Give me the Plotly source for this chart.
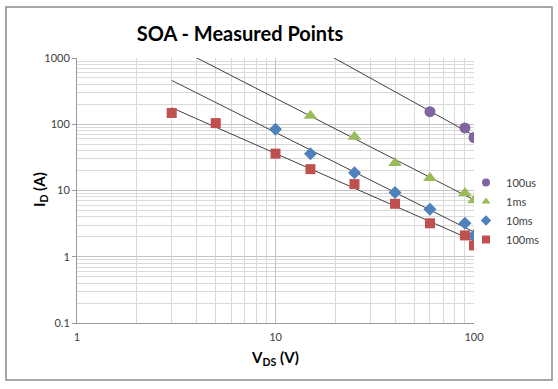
import numpy as np
import plotly.graph_objects as go

# Data
vds_100us = [60, 90, 100]
id_100us = [155, 88, 63]
vds_1ms = [15, 25, 40, 60, 90, 100]
id_1ms = [134, 65, 26, 15.5, 9.2, 7.1]
vds_10ms = [10, 15, 25, 40, 60, 90, 100]
id_10ms = [84, 36, 18.5, 9.3, 5.2, 3.2, 2.1]
vds_100ms = [3, 5, 10, 15, 25, 40, 60, 90, 100]
id_100ms = [148, 104, 36, 21, 12.5, 6.3, 3.2, 2.1, 1.48]

series = [
    ("100us", vds_100us, id_100us, "circle", "#8064A2", 11),
    ("1ms", vds_1ms, id_1ms, "triangle-up", "#9BBB59", 12),
    ("10ms", vds_10ms, id_10ms, "diamond", "#4F81BD", 10),
    ("100ms", vds_100ms, id_100ms, "square", "#C0504D", 10),
]

trend_x_range = [3, 100]

fig = go.Figure()

# power-law trendlines (Excel style), fit in log-log space
for name, xs, ys, sym, col, sz in series:
    b, a = np.polyfit(np.log10(xs), np.log10(ys), 1)
    tx = np.logspace(np.log10(trend_x_range[0]), np.log10(trend_x_range[1]), 60)
    ty = 10 ** (a + b * np.log10(tx))
    fig.add_trace(go.Scatter(x=tx, y=ty, mode="lines", line=dict(color="#404040", width=1),
                             showlegend=False, hoverinfo="skip"))

for name, xs, ys, sym, col, sz in series:
    fig.add_trace(go.Scatter(x=xs, y=ys, mode="markers", name=name, showlegend=False,
                             marker=dict(symbol=sym, color=col, size=sz, line=dict(width=0))))

# legend-only entries with the smaller legend symbols
for name, xs, ys, sym, col, sz in series:
    fig.add_trace(go.Scatter(x=[None], y=[None], mode="markers", name=name,
                             marker=dict(symbol=sym, color=col, size=8, line=dict(width=0))))

L, R, T, B = 77, 474, 58, 323
W, H = 558, 389

def px2paper_x(px):
    return (px - L) / (R - L)

def px2paper_y(py):
    return (B - py) / (B - T)

fig.update_layout(
    width=W, height=H,
    margin=dict(l=L, r=W - R, t=T, b=H - B, autoexpand=False),
    paper_bgcolor="white", plot_bgcolor="white",
    font=dict(family="Lato, 'Open Sans', sans-serif", color="#404040", size=11),
    title=dict(text="<b>SOA - Measured Points</b>", x=240 / W, xanchor="center",
               y=1 - 34 / H, yanchor="middle", font=dict(size=20, color="#000000")),
    legend=dict(x=px2paper_x(466), y=px2paper_y(168), xanchor="left", yanchor="top",
                font=dict(size=11, color="#404040"), tracegroupgap=0, itemwidth=30,
                bgcolor="rgba(0,0,0,0)"),
    showlegend=True,
    shapes=[
        dict(type="rect", xref="paper", yref="paper",
             x0=px2paper_x(6), x1=px2paper_x(552), y0=px2paper_y(380), y1=px2paper_y(7),
             line=dict(color="#8c8c8c", width=1.5), layer="below"),
    ],
    annotations=[
        dict(text="<b>I<sub>D</sub> (A)</b>", xref="paper", yref="paper",
             x=px2paper_x(40), y=px2paper_y(190), xanchor="center", yanchor="middle",
             textangle=-90, showarrow=False, font=dict(size=15, color="#000000")),
    ],
)

fig.update_xaxes(
    type="log", range=[0, 2], tickvals=[1, 10, 100], ticktext=["1", "10", "100"],
    showgrid=True, gridcolor="#c4c4c4", gridwidth=1,
    minor=dict(tickvals=[k * 10 ** d for d in range(0, 2) for k in range(2, 10)],
               showgrid=True, gridcolor="#dadada", gridwidth=1),
    showline=True, linecolor="#9a9a9a", linewidth=1,
    ticks="outside", ticklen=4, tickcolor="rgba(0,0,0,0)",
    tickfont=dict(size=11, color="#404040"),
    title=dict(text="<b>V<sub>DS</sub> (V)</b>", font=dict(size=15, color="#000000"), standoff=10),
    zeroline=False, automargin=False,
)
fig.update_yaxes(
    type="log", range=[-1, 3], tickvals=[0.1, 1, 10, 100, 1000],
    ticktext=["0.1", "1", "10", "100", "1000"],
    showgrid=True, gridcolor="#c4c4c4", gridwidth=1,
    minor=dict(tickvals=[k * 10 ** d for d in range(-1, 3) for k in range(2, 10)],
               showgrid=True, gridcolor="#dadada", gridwidth=1),
    showline=True, linecolor="#9a9a9a", linewidth=1,
    ticks="outside", ticklen=4, tickcolor="#9a9a9a", tickfont=dict(size=11, color="#404040"),
    zeroline=False, automargin=False,
)

fig.write_html("out.html", config={"displayModeBar": False},
               post_script="document.body.style.margin='0px';")
